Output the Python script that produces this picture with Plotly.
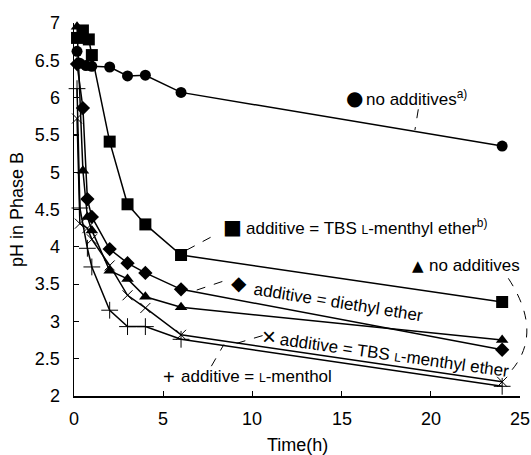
import plotly.graph_objects as go

# ---- data ----
circle_t = [0.17, 0.33, 0.67, 1, 2, 3, 4, 6, 24]
circle_ph = [6.62, 6.46, 6.43, 6.42, 6.41, 6.29, 6.30, 6.07, 5.35]

square_t = [0.17, 0.5, 0.83, 1, 2, 3, 4, 6, 24]
square_ph = [6.80, 6.90, 6.78, 6.57, 5.41, 4.57, 4.30, 3.89, 3.26]

diamond_t = [0.17, 0.5, 0.75, 1, 2, 3, 4, 6, 24]
diamond_ph = [6.45, 5.86, 4.64, 4.40, 3.97, 3.78, 3.65, 3.43, 2.62]

triangle_t = [0.17, 0.5, 0.75, 1, 2, 3, 4, 6, 24]
triangle_ph = [6.95, 5.02, 4.40, 4.22, 3.68, 3.57, 3.33, 3.19, 2.75]

cross_t = [0.17, 0.33, 0.75, 1, 2, 3, 4, 6, 24]
cross_ph = [5.72, 4.31, 4.25, 4.10, 3.75, 3.35, 3.18, 2.82, 2.19]

plus_t = [0.17, 0.33, 0.75, 1, 2, 3, 4, 6, 24]
plus_ph = [6.12, 4.52, 3.98, 3.73, 3.15, 2.93, 2.93, 2.76, 2.13]

x_ticks = [0, 5, 10, 15, 20, 25]
y_ticks = [2, 2.5, 3, 3.5, 4, 4.5, 5, 5.5, 6, 6.5, 7]
x_title = "Time(h)"
y_title = "pH in Phase B"

FONT = "Liberation Sans, Arial, Helvetica, sans-serif"
SC = '<span style="font-size:12px">L</span>'

fig = go.Figure()

series = [
    (circle_t, circle_ph, dict(symbol="circle", size=11, color="black")),
    (square_t, square_ph, dict(symbol="square", size=12, color="black")),
    (diamond_t, diamond_ph, dict(symbol="diamond", size=11, color="black")),
    (triangle_t, triangle_ph, dict(symbol="triangle-up", size=11, color="black")),
    (cross_t, cross_ph, dict(symbol="x-thin-open", size=10, color="black", line=dict(width=1, color="black"))),
    (plus_t, plus_ph, dict(symbol="cross-thin-open", size=12, color="black", line=dict(width=1, color="black"))),
]
for t, ph, mk in series:
    fig.add_trace(go.Scatter(x=t, y=ph, mode="lines+markers",
                             line=dict(color="black", width=1.5),
                             marker=mk, showlegend=False, cliponaxis=False,
                             hoverinfo="skip"))

# label texts
labels = [
    dict(x=16.26, y=5.995, text="no additives<sup>a)</sup>", xanchor="left", textangle=0),
    dict(x=9.52, y=4.265, text="additive = TBS " + SC + "-menthyl ether<sup>b)</sup>", xanchor="left", textangle=0),
    dict(x=19.80, y=3.743, text="no additives", xanchor="left", textangle=0),
    dict(x=14.80, y=3.26, text="additive = diethyl ether", xanchor="center", textangle=9),
    dict(x=17.98, y=2.545, text="additive = TBS " + SC + "-menthyl ether", xanchor="center", textangle=8),
    dict(x=5.90, y=2.255, text="additive = " + SC + "-menthol", xanchor="left", textangle=0),
]
for a in labels:
    fig.add_annotation(xref="x", yref="y", showarrow=False, yanchor="middle",
                       font=dict(family=FONT, size=17, color="black"), **a)

# label symbols
symbols = [
    (15.70, 5.995, "●", 20, "DejaVu Sans"),
    (8.86, 4.265, "■", 20, "DejaVu Sans"),
    (19.28, 3.743, "▲", 15, "DejaVu Sans"),
    (9.25, 3.515, "◆", 20, "DejaVu Sans"),
    (10.93, 2.791, "×", 24, FONT),
    (5.33, 2.255, "+", 20, FONT),
]
for x, y, s, sz, fam in symbols:
    fig.add_annotation(xref="x", yref="y", x=x, y=y, text=s, showarrow=False,
                       xanchor="center", yanchor="middle",
                       font=dict(family=fam, size=sz, color="black"))

# x tick labels and axis title as text placed below the axis
for v in x_ticks:
    fig.add_annotation(xref="x", yref="paper", x=v, y=-0.0617, text=str(v),
                       showarrow=False, xanchor="center", yanchor="middle",
                       font=dict(family=FONT, size=18, color="black"))
fig.add_annotation(xref="paper", yref="paper", x=0.5, y=-0.1314, text=x_title,
                   showarrow=False, xanchor="center", yanchor="middle",
                   font=dict(family=FONT, size=18, color="black"))

dash = dict(color="black", width=1, dash="dash")
leaders = [
    (19.30, 5.843, 19.11, 5.566),
    (6.32, 3.957, 7.90, 4.158),
    (6.88, 3.42, 8.56, 3.555),
    (9.12, 2.706, 10.71, 2.82),
    (7.70, 2.40, 8.40, 2.69),
]
for x0, y0, x1, y1 in leaders:
    fig.add_shape(type="line", xref="x", yref="y", x0=x0, y0=y0, x1=x1, y1=y1, line=dash)

# curved leader for the second "no additives" label (paper coords)
fig.add_shape(type="path", xref="paper", yref="paper",
              path="M 0.9738,0.3155 Q 1.0570,0.1632 0.9738,0.0592", line=dash)

fig.update_layout(
    width=531, height=455,
    margin=dict(l=74, r=11, t=23, b=59),
    paper_bgcolor="white", plot_bgcolor="white",
    hovermode=False,
    font=dict(family=FONT, size=18, color="black"),
    xaxis=dict(range=[0, 25], tickvals=x_ticks, ticks="inside", ticklen=5,
               tickwidth=1.2, tickcolor="black", showline=True, linecolor="black",
               linewidth=1.5, showgrid=False, zeroline=False, showticklabels=False,
               automargin=False),
    yaxis=dict(range=[2, 7], tickvals=y_ticks, ticks="inside", ticklen=5,
               tickwidth=1.2, tickcolor="black", showline=True, linecolor="black",
               linewidth=1.5, showgrid=False, zeroline=False, ticklabelstandoff=9,
               automargin=False,
               title=dict(text=y_title, font=dict(size=18), standoff=6)),
)

fig.write_html("out.html", config={"displayModeBar": False, "staticPlot": True},
               post_script="document.body.style.margin='0';document.body.style.overflow='hidden';")
